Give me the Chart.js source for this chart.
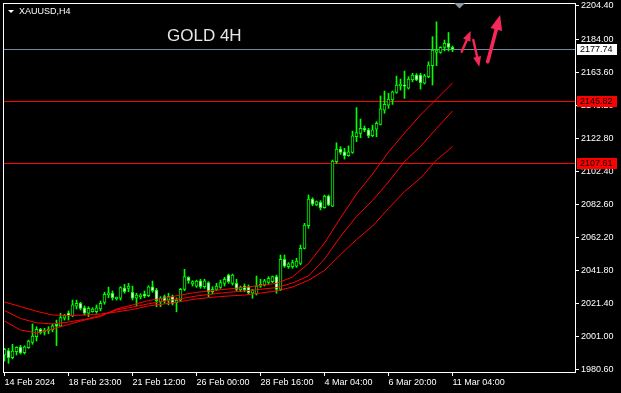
<!DOCTYPE html>
<html>
<head>
<meta charset="utf-8">
<script src="https://cdn.jsdelivr.net/npm/chart.js@4.4.1/dist/chart.umd.min.js"></script>
<style>
  html, body { margin: 0; padding: 0; background: #000; }
  #wrap { width: 621px; height: 393px; }
</style>
</head>
<body>
<div id="wrap"><canvas id="chart" width="621" height="393"></canvas></div>
<script>
// XAUUSD H4 candles (bar 0 = 14 Feb 2024)
const opens = [
  1989.8, 1992.5, 1988.2, 1991.9, 1994.7, 1991.2, 1994.3, 1997.6, 2001.1, 2005.6,
  2003.8, 2004.6, 2005.2, 2008.7, 2007.6, 2012.4, 2015.6, 2014.0, 2019.9, 2021.6,
  2018.9, 2015.5, 2016.4, 2016.4, 2018.1, 2022.2, 2026.7, 2027.8, 2024.4, 2024.7,
  2031.0, 2030.8, 2028.4, 2024.7, 2025.7, 2027.1, 2026.3, 2031.8, 2029.8, 2022.6,
  2025.7, 2023.6, 2025.7, 2022.0, 2023.6, 2030.2, 2037.6, 2033.5, 2032.2, 2035.5,
  2031.8, 2034.3, 2028.7, 2030.2, 2031.4, 2033.9, 2039.0, 2033.9, 2033.9, 2029.8,
  2032.2, 2031.8, 2027.8, 2027.3, 2032.2, 2032.9, 2034.5, 2034.9, 2038.0, 2030.2,
  2048.7, 2044.1, 2044.1, 2044.5, 2046.2, 2055.4, 2069.3, 2085.7, 2082.1, 2083.7,
  2080.4, 2087.6, 2081.4, 2108.7, 2116.5, 2114.8, 2112.4, 2114.4, 2124.0, 2126.1,
  2129.2, 2128.2, 2124.7, 2128.6, 2131.6, 2140.4, 2143.5, 2146.6, 2151.3, 2155.4,
  2155.8, 2153.8, 2158.9, 2162.0, 2162.0, 2156.9, 2160.9, 2167.7, 2175.9, 2175.9,
  2179.0, 2181.4, 2179.0
];
const highs = [
  1993.9, 1993.9, 1996.4, 1994.9, 1995.8, 1995.5, 1999.0, 2008.9, 2007.2, 2006.2,
  2006.2, 2007.2, 2008.9, 2011.3, 2015.5, 2014.8, 2016.9, 2023.6, 2023.6, 2022.2,
  2020.0, 2019.5, 2018.9, 2020.6, 2023.0, 2028.4, 2031.6, 2029.2, 2025.5, 2031.8,
  2033.3, 2033.9, 2032.2, 2027.8, 2027.5, 2029.2, 2032.4, 2035.3, 2030.8, 2025.7,
  2026.7, 2027.8, 2026.7, 2024.9, 2030.8, 2042.5, 2038.0, 2035.5, 2035.9, 2036.4,
  2036.4, 2034.9, 2031.8, 2033.9, 2035.9, 2037.6, 2039.6, 2039.6, 2036.4, 2032.2,
  2033.5, 2032.9, 2030.2, 2038.4, 2036.4, 2036.4, 2038.0, 2038.4, 2039.0, 2051.3,
  2051.3, 2046.6, 2048.2, 2049.3, 2057.4, 2070.8, 2088.2, 2086.5, 2084.5, 2084.7,
  2088.2, 2088.2, 2109.7, 2120.3, 2117.9, 2116.9, 2118.4, 2127.5, 2141.9, 2134.9,
  2130.6, 2129.2, 2131.2, 2133.3, 2149.1, 2152.1, 2150.7, 2152.1, 2161.3, 2159.5,
  2164.4, 2160.9, 2163.0, 2162.8, 2163.0, 2162.4, 2170.1, 2185.5, 2194.7, 2179.4,
  2183.5, 2188.1, 2179.8
];
const lows = [
  1986.1, 1984.7, 1987.4, 1989.8, 1990.4, 1990.4, 1993.9, 1996.4, 1998.4, 2002.7,
  2002.1, 2002.9, 2004.1, 1995.6, 2007.2, 2011.3, 2011.3, 2013.4, 2018.1, 2017.5,
  2014.4, 2013.4, 2016.1, 2015.5, 2016.9, 2021.0, 2025.0, 2023.6, 2023.6, 2023.6,
  2027.8, 2028.7, 2023.6, 2020.1, 2024.3, 2025.0, 2025.7, 2028.4, 2019.5, 2019.5,
  2021.6, 2020.6, 2020.6, 2016.4, 2022.6, 2029.4, 2033.9, 2032.2, 2031.4, 2030.8,
  2030.8, 2025.7, 2027.3, 2029.4, 2030.8, 2032.2, 2033.9, 2032.8, 2029.4, 2028.7,
  2028.7, 2027.3, 2024.7, 2026.7, 2031.4, 2032.2, 2033.5, 2034.3, 2027.8, 2029.4,
  2043.7, 2043.1, 2043.1, 2043.7, 2045.2, 2055.0, 2067.7, 2081.6, 2081.6, 2079.0,
  2080.0, 2081.6, 2081.0, 2107.7, 2113.2, 2110.3, 2112.0, 2113.8, 2121.0, 2123.4,
  2127.1, 2123.4, 2124.0, 2124.0, 2131.2, 2138.4, 2141.5, 2143.9, 2150.7, 2152.7,
  2147.6, 2153.3, 2157.8, 2158.5, 2153.3, 2156.4, 2160.3, 2155.8, 2167.7, 2175.3,
  2176.7, 2176.7, 2176.3
];
const closes = [
  1993.3, 1988.2, 1992.3, 1994.6, 1991.1, 1994.9, 1998.4, 2001.5, 2005.6, 2003.5,
  2005.2, 2005.8, 2007.8, 2007.5, 2012.8, 2014.0, 2014.0, 2020.6, 2021.6, 2018.5,
  2015.5, 2018.5, 2018.1, 2018.9, 2021.6, 2027.1, 2028.0, 2025.0, 2025.3, 2031.2,
  2028.7, 2032.2, 2024.7, 2026.7, 2026.7, 2026.1, 2031.8, 2029.4, 2023.2, 2024.7,
  2023.2, 2025.7, 2021.6, 2023.6, 2030.2, 2038.0, 2035.5, 2034.9, 2035.3, 2031.8,
  2035.5, 2028.7, 2030.2, 2032.2, 2034.3, 2036.4, 2034.9, 2039.0, 2030.2, 2031.4,
  2029.8, 2028.1, 2029.8, 2032.2, 2033.3, 2035.5, 2037.0, 2038.0, 2030.2, 2048.7,
  2044.5, 2045.8, 2046.6, 2047.6, 2055.4, 2069.7, 2085.7, 2082.5, 2084.1, 2080.4,
  2087.6, 2082.1, 2109.1, 2116.5, 2114.4, 2112.4, 2114.8, 2124.5, 2126.5, 2129.2,
  2128.0, 2124.7, 2128.2, 2132.3, 2141.1, 2143.9, 2147.2, 2151.7, 2155.8, 2156.2,
  2155.1, 2159.5, 2162.0, 2158.9, 2157.2, 2161.5, 2168.1, 2177.3, 2177.3, 2179.0,
  2181.4, 2179.0, 2177.74
];

// the three red moving averages, read every 4th bar
const maBars = [0, 4, 8, 12, 16, 20, 24, 28, 32, 36, 40, 44, 48, 52, 56, 60, 64, 68, 72, 76, 80, 84, 88, 92, 96, 100, 104, 108, 112];
const maFast = [
  2010.7, 2005.2, 2003.4, 2005.8, 2008.6, 2011.3, 2013.5, 2018.1, 2020.6, 2023.3,
  2024.9, 2026.7, 2028.3, 2029.5, 2030.4, 2031.4, 2032.6, 2033.9, 2037.8, 2046.1,
  2058.7, 2074.1, 2088.8, 2101.1, 2114.6, 2126.3, 2137.4, 2147.2, 2157.0
];
const maMid = [
  2017.1, 2012.3, 2009.6, 2008.9, 2010.1, 2011.7, 2014.1, 2017.5, 2019.3, 2021.3,
  2023.0, 2024.4, 2026.1, 2027.3, 2028.4, 2029.2, 2030.2, 2031.3, 2034.1, 2038.4,
  2048.8, 2062.7, 2075.0, 2084.8, 2096.2, 2108.8, 2118.0, 2129.1, 2139.8
];
const maSlow = [
  2022.4, 2019.6, 2016.7, 2014.4, 2014.1, 2014.4, 2015.0, 2016.3, 2017.8, 2020.0,
  2021.2, 2022.7, 2024.3, 2025.3, 2026.1, 2026.7, 2027.9, 2029.2, 2031.6, 2035.8,
  2041.8, 2051.5, 2060.8, 2069.1, 2079.9, 2090.3, 2098.6, 2109.7, 2118.0
];

const xTickBars = [0, 16, 32, 48, 64, 80, 96, 112];
const xTickLabels = ['14 Feb 2024', '18 Feb 23:00', '21 Feb 12:00', '26 Feb 00:00', '28 Feb 16:00', '4 Mar 04:00', '6 Mar 20:00', '11 Mar 04:00'];
const yTicks = [2204.40, 2184.00, 2163.60, 2143.20, 2122.80, 2102.40, 2082.60, 2062.20, 2041.80, 2021.40, 2001.00, 1980.60];

const bidPrice = 2177.74;
const levels = [2145.82, 2107.61];

// hand drawn arrows: [fromBar, fromPrice, toBar, toPrice, size]
const arrows = [
  [114.3, 2176.3, 116.55, 2189.0, 1],
  [117.2, 2183.5, 118.7, 2167.1, 1],
  [120.8, 2170.1, 123.9, 2198.9, 1.5]
];

const GREEN = '#00ff00';
const FONT = '"Liberation Sans", Arial, sans-serif';

const mt4Decor = {
  id: 'mt4Decor',
  beforeDatasetsDraw(chart) {
    const { ctx, chartArea: a, scales: { y } } = chart;
    ctx.save();
    ctx.lineWidth = 1;
    ctx.strokeStyle = '#ff0000';
    levels.forEach(v => {
      const py = Math.round(y.getPixelForValue(v)) + 0.5;
      ctx.beginPath(); ctx.moveTo(a.left, py); ctx.lineTo(a.right, py); ctx.stroke();
    });
    ctx.strokeStyle = '#778899';
    const by = Math.round(y.getPixelForValue(bidPrice)) + 0.5;
    ctx.beginPath(); ctx.moveTo(a.left, by); ctx.lineTo(a.right, by); ctx.stroke();
    ctx.restore();
  },
  afterDatasetsDraw(chart) {
    const { ctx, scales: { x, y } } = chart;
    ctx.save();
    ctx.fillStyle = '#f5285a';
    ctx.strokeStyle = '#f5285a';
    ctx.lineCap = 'round';
    arrows.forEach(([b1, p1, b2, p2, k]) => {
      const x1 = x.getPixelForValue(b1), y1 = y.getPixelForValue(p1);
      const x2 = x.getPixelForValue(b2), y2 = y.getPixelForValue(p2);
      const len = Math.hypot(x2 - x1, y2 - y1);
      const ux = (x2 - x1) / len, uy = (y2 - y1) / len;
      const hl = 10 * k, hw = 4 * k;
      const bx = x2 - ux * hl, bY = y2 - uy * hl;
      ctx.lineWidth = 2.4 * k;
      ctx.beginPath(); ctx.moveTo(x1, y1); ctx.lineTo(bx + ux * 2, bY + uy * 2); ctx.stroke();
      ctx.beginPath();
      ctx.moveTo(x2, y2);
      ctx.lineTo(bx - uy * hw, bY + ux * hw);
      ctx.lineTo(bx + uy * hw, bY - ux * hw);
      ctx.closePath(); ctx.fill();
    });
    ctx.restore();
  },
  afterDraw(chart) {
    const { ctx, chartArea: a, scales: { y } } = chart;
    ctx.save();
    // frame
    ctx.strokeStyle = '#ffffff';
    ctx.lineWidth = 1;
    ctx.strokeRect(a.left + 0.5, a.top + 0.5, a.right - a.left, a.bottom - a.top);

    // price boxes on the right
    ctx.font = '9px ' + FONT;
    ctx.textBaseline = 'middle';
    const box = (v, bg) => {
      const py = Math.round(y.getPixelForValue(v));
      ctx.fillStyle = bg;
      ctx.fillRect(a.right + 2, py - 5, 40, 11);
      ctx.fillStyle = '#000000';
      ctx.fillText(v.toFixed(2), a.right + 5, py + 1);
    };
    box(bidPrice, '#ffffff');
    levels.forEach(v => box(v, '#ff0000'));

    // symbol header
    ctx.fillStyle = '#ffffff';
    ctx.beginPath(); ctx.moveTo(8, 10); ctx.lineTo(14, 10); ctx.lineTo(11, 13); ctx.closePath(); ctx.fill();
    ctx.textBaseline = 'middle';
    ctx.fillText('XAUUSD,H4', 19, 12);

    ctx.font = '17px ' + FONT;
    ctx.fillStyle = '#e6e6e6';
    ctx.fillText('GOLD 4H', 167, 36);

    // chart shift marker
    ctx.fillStyle = '#8a9aaa';
    ctx.beginPath(); ctx.moveTo(454, 3); ctx.lineTo(465, 3); ctx.lineTo(459.5, 8.5); ctx.closePath(); ctx.fill();
    ctx.restore();
  }
};

const bars = closes.map((c, i) => i);
const toPoints = (arr) => maBars.map((b, k) => ({ x: b, y: arr[k] }));

new Chart(document.getElementById('chart'), {
  type: 'bar',
  data: {
    datasets: [
      {
        label: 'wick',
        data: bars.map(i => ({ x: i, y: [lows[i], highs[i]] })),
        backgroundColor: GREEN,
        borderWidth: 0,
        barThickness: 1,
        grouped: false,
        order: 3
      },
      {
        label: 'body',
        data: bars.map(i => ({ x: i, y: [opens[i], closes[i]] })),
        backgroundColor: bars.map(i => closes[i] >= opens[i] ? '#000000' : '#ffffff'),
        borderColor: GREEN,
        borderWidth: 1,
        borderSkipped: false,
        barThickness: 3,
        grouped: false,
        order: 2
      },
      { type: 'line', label: 'MA fast', data: toPoints(maFast), borderColor: '#ff0000', borderWidth: 1, pointRadius: 0, tension: 0, order: 1 },
      { type: 'line', label: 'MA mid', data: toPoints(maMid), borderColor: '#ff0000', borderWidth: 1, pointRadius: 0, tension: 0, order: 1 },
      { type: 'line', label: 'MA slow', data: toPoints(maSlow), borderColor: '#ff0000', borderWidth: 1, pointRadius: 0, tension: 0, order: 1 }
    ]
  },
  options: {
    responsive: false,
    animation: false,
    devicePixelRatio: 1,
    layout: { padding: { left: 3, top: 3, right: 0, bottom: 0 } },
    plugins: { legend: { display: false }, tooltip: { enabled: false } },
    scales: {
      x: {
        type: 'linear',
        offset: false,
        min: -0.375,
        max: 142.625,
        afterBuildTicks: (s) => { s.ticks = xTickBars.map(v => ({ value: v })); },
        afterFit: (s) => { s.height = 21; s.paddingLeft = 0; s.paddingRight = 0; },
        grid: { offset: false, drawOnChartArea: false, color: '#ffffff', tickLength: 4 },
        border: { display: false },
        ticks: {
          color: '#ffffff',
          font: { family: FONT, size: 9 },
          align: 'start',
          padding: 1,
          maxRotation: 0,
          autoSkip: false,
          callback: (v) => xTickLabels[xTickBars.indexOf(v)] || ''
        }
      },
      y: {
        position: 'right',
        min: 1979.37,
        max: 2206.24,
        afterBuildTicks: (s) => { s.ticks = yTicks.map(v => ({ value: v })); },
        afterFit: (s) => { s.width = 46; s.paddingTop = 0; s.paddingBottom = 0; },
        grid: { drawOnChartArea: false, color: '#ffffff', tickLength: 4 },
        border: { display: false },
        ticks: {
          color: '#ffffff',
          font: { family: FONT, size: 9 },
          padding: 2,
          autoSkip: false,
          callback: (v) => Number(v).toFixed(2)
        }
      }
    }
  },
  plugins: [mt4Decor]
});
</script>
</body>
</html>
